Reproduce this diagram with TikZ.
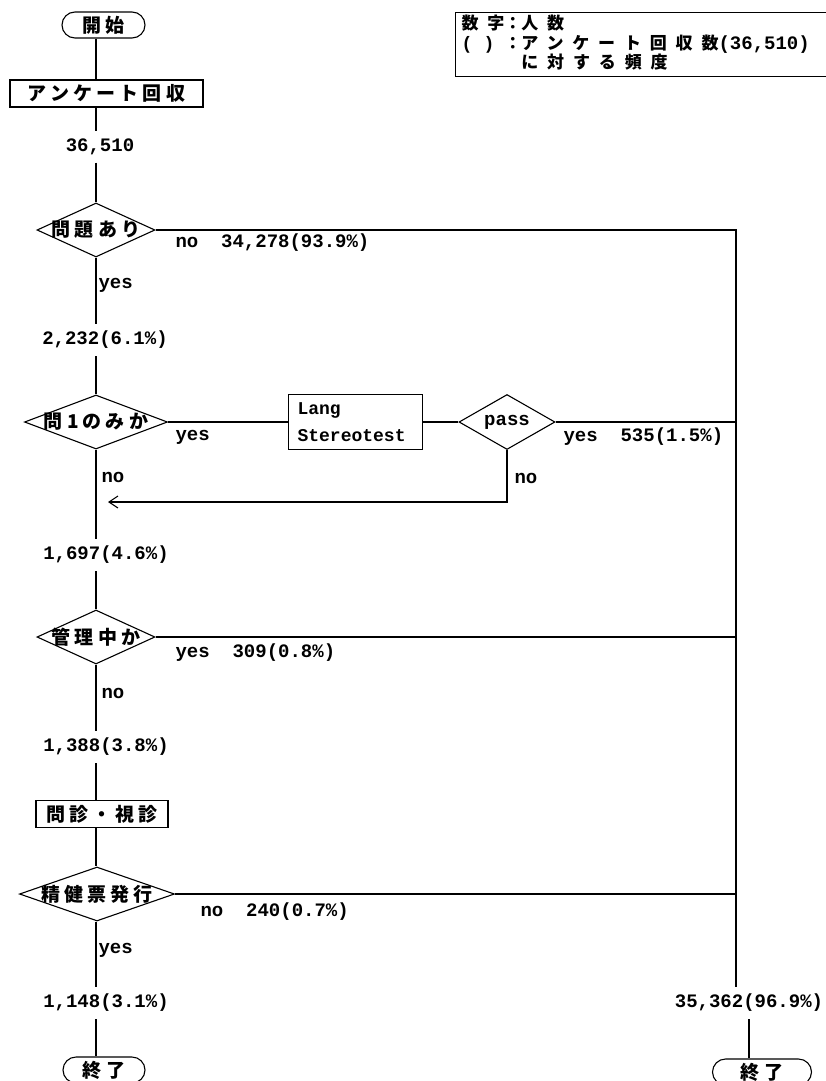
\documentclass[tikz,border=0pt]{standalone}
\usepackage{fontspec}
\setmainfont{Liberation Mono}
\newfontfamily\jpfont[LetterSpace=22]{Noto Sans CJK JP}
\newfontfamily\jplegfont[LetterSpace=52]{Noto Sans CJK JP}
\usetikzlibrary{shapes.geometric,arrows.meta}

\begin{document}
\begin{tikzpicture}[
  x=1pt, y=-1pt,
  line width=1.1pt,
  jp/.style={font=\jpfont\bfseries\fontsize{19}{21}\selectfont},
  num/.style={font=\bfseries\fontsize{19}{22}\selectfont, inner xsep=0pt, inner ysep=7pt},
  lbl/.style={font=\bfseries\fontsize{19}{22}\selectfont, anchor=west, inner sep=0pt},
  term/.style={draw, rounded corners=13pt, minimum height=26pt, jp, inner sep=0pt},
  proc/.style={draw, minimum height=27pt, jp, inner sep=0pt},
  decide/.style={diamond, draw, inner sep=0pt, minimum height=54pt, label={[jp]center:#1}},
]
  \useasboundingbox (0,0) rectangle (825,1081);

  % Legend
  \node[draw, anchor=north west, inner xsep=6pt, inner ysep=2pt, text width=372pt,
        font=\jplegfont\bfseries\fontsize{17}{18}\selectfont] (legend) at (455,12)
    {\begin{tabular}{@{}l@{}l@{}l@{}}
      数字 & ： & 人数\\
      {\rmfamily\fontsize{18}{18}\selectfont(\ \ )} & ： & アンケート回収数{\rmfamily\fontsize{19}{18}\selectfont(36,510)}\\
      & & に対する頻度
    \end{tabular}};

  % Main column
  \coordinate (spine) at (96,0);
  \node[term, minimum width=83pt] (start) at (103.5,25) {開始};
  \node[proc, minimum width=193pt] (collect) at (106.5,93.5) {アンケート回収};
  \node[num] (n0) at (100,147) {36,510};
  \node[decide=問題あり, minimum width=118pt] (q1) at (96,230) {};
  \node[num] (n1) at (105,340) {2,232(6.1\%)};
  \node[decide=問1のみか, minimum width=143pt] (q2) at (96,422) {};
  \node[draw, anchor=west, align=left, text width=116pt, inner xsep=9pt, inner ysep=0pt,
        minimum height=55pt, font=\bfseries\fontsize{18}{27}\selectfont] (lang) at (288,422) {Lang\\Stereotest};
  \node[diamond, draw, aspect=1.75, inner sep=0pt, minimum width=96pt, minimum height=55pt,
        font=\bfseries\fontsize{19}{22}\selectfont] (pass) at (507,422) {pass};
  \node[num] (n2) at (106,555) {1,697(4.6\%)};
  \node[decide=管理中か, minimum width=118pt] (q3) at (96,637) {};
  \node[num] (n3) at (106,747) {1,388(3.8\%)};
  \node[proc, minimum width=132pt] (exam) at (102,814) {問診・視診};
  \node[decide=精健票発行, minimum width=155pt] (q4) at (97,894) {};
  \node[num] (n4) at (106,1003) {1,148(3.1\%)};
  \node[term, minimum width=82pt] (end1) at (104,1070) {終了};

  % Right column
  \coordinate (rtop) at (736,230);
  \coordinate (back) at (108,502);
  \node[num] (n5) at (749,1003) {35,362(96.9\%)};
  \node[term, minimum width=99pt] (end2) at (762,1072) {終了};

  % Branch labels
  \node[lbl] (q1no) at (175,243) {no\ \ 34,278(93.9\%)};
  \node[lbl] (q1yes) at (98,285) {yes};
  \node[lbl] (q2yes) at (175,437) {yes};
  \node[lbl] (q2no) at (101,477) {no};
  \node[lbl] (passyes) at (563,437) {yes\ \ 535(1.5\%)};
  \node[lbl] (passno) at (514,478) {no};
  \node[lbl] (q3yes) at (175,653) {yes\ \ 309(0.8\%)};
  \node[lbl] (q3no) at (101,693) {no};
  \node[lbl] (q4no) at (200,912) {no\ \ 240(0.7\%)};
  \node[lbl] (q4yes) at (98,950) {yes};

  % Connectors
  \draw (start.south -| spine) -- (collect.north -| spine);
  \draw (collect.south -| spine) -- (n0.north -| spine);
  \draw (n0.south -| spine) -- (q1.north);
  \draw (q1.south) -- (n1.north -| spine);
  \draw (q1.east) -- (rtop) -- (rtop |- n5.north);
  \draw (n1.south -| spine) -- (q2.north);
  \draw (q2.east) -- (q2.east -| lang.west);
  \draw (lang.east) -- (pass.west);
  \draw (pass.east) -- (pass.east -| rtop);
  \draw[-{Straight Barb[length=9pt,width=12pt]}] (pass.south) |- (back);
  \draw (q2.south) -- (n2.north -| spine);
  \draw (n2.south -| spine) -- (q3.north);
  \draw (q3.east) -- (q3.east -| rtop);
  \draw (q3.south) -- (n3.north -| spine);
  \draw (n3.south -| spine) -- (exam.north -| spine);
  \draw (exam.south -| spine) -- (q4.north -| spine);
  \draw (q4.east) -- (q4.east -| rtop);
  \draw (q4.south -| spine) -- (n4.north -| spine);
  \draw (n4.south -| spine) -- (end1.north -| spine);
  \draw (n5.south) -- (n5.south |- end2.north);
\end{tikzpicture}
\end{document}
